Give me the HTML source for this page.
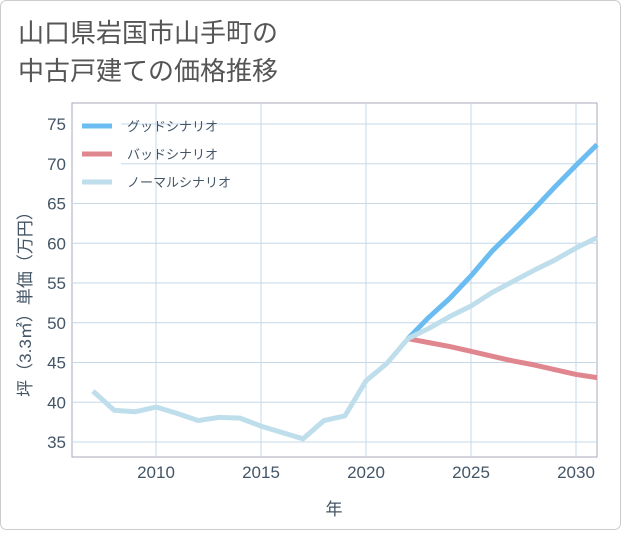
<!DOCTYPE html>
<html><head><meta charset="utf-8"><style>
body{margin:0;background:#fff;}
#wrap{position:relative;width:621px;height:530px;font-family:"Liberation Sans","Noto Sans CJK JP",sans-serif;}
</style></head><body>
<div id="wrap">
<svg id="svg" width="621" height="530" xmlns="http://www.w3.org/2000/svg">
<rect x="0.5" y="0.5" width="620" height="529" rx="6" fill="#fff" stroke="#ccc"/>
<text x="18" y="42" font-size="26" fill="#555" font-family="Liberation Sans, Noto Sans CJK JP, sans-serif">山口県岩国市山手町の</text>
<text x="18" y="80" font-size="26" fill="#555" font-family="Liberation Sans, Noto Sans CJK JP, sans-serif">中古戸建ての価格推移</text>
<g id="grid"></g>
<g id="axes"></g>
<g id="series"></g>
<g id="legend"></g>
</svg>
</div>
<script>
const years=[2007,2008,2009,2010,2011,2012,2013,2014,2015,2016,2017,2018,2019,2020,2021,2022];
const hist=[41.4,39.0,38.8,39.4,38.6,37.7,38.1,38.0,37.0,36.2,35.4,37.7,38.3,42.7,44.9,48.0];
const futYears=[2022,2023,2024,2025,2026,2027,2028,2029,2030,2031];
const good=[48.0,50.7,53.1,55.9,59.0,61.6,64.3,67.1,69.8,72.4];
const bad=[48.0,47.5,47.0,46.4,45.8,45.2,44.7,44.1,43.5,43.1];
const normal=[48.0,49.3,50.8,52.1,53.8,55.2,56.6,57.9,59.4,60.7];
const xTicks=[2010,2015,2020,2025,2030];
const yTicks=[35,40,45,50,55,60,65,70,75];
const X0=72,X1=597,Y0=103,Y1=457;
const xs=y=>X0+(y-2006)*(X1-X0)/25;
const ys=v=>442-(v-35)*(442-124)/40;
const NS="http://www.w3.org/2000/svg";
function mk(t,a,p){const e=document.createElementNS(NS,t);for(const k in a)e.setAttribute(k,a[k]);p.appendChild(e);return e;}
const grid=document.getElementById('grid'),axes=document.getElementById('axes'),ser=document.getElementById('series'),leg=document.getElementById('legend');
mk('rect',{x:X0,y:Y0,width:X1-X0,height:Y1-Y0,fill:'#fff',stroke:'#aab',"stroke-width":1},grid);
yTicks.forEach(v=>{const l=mk('line',{x1:X0,x2:X1,y1:ys(v),y2:ys(v),stroke:'#c5d8e8',"stroke-width":1},grid);


const t=mk('text',{x:X0-6,y:ys(v)+6,"text-anchor":"end","font-size":17,fill:'#445566'},axes);t.textContent=v;

});
xTicks.forEach(v=>{const l=mk('line',{x1:xs(v),x2:xs(v),y1:Y0,y2:Y1,stroke:'#c5d8e8',"stroke-width":1},grid);


const t=mk('text',{x:xs(v),y:Y1+21,"text-anchor":"middle","font-size":17,fill:'#445566'},axes);t.textContent=v;

});
const xt=mk('text',{x:334,y:515,"text-anchor":"middle","font-size":17,fill:'#445566'},axes);xt.textContent='年';


const yt=mk('text',{x:0,y:0,"text-anchor":"middle","font-size":17,fill:'#445566',transform:'translate(31,300) rotate(-90)'},axes);yt.textContent='坪（3.3㎡）単価（万円）';


function line(xv,yv,col,name){const p=mk('polyline',{points:xv.map((x,i)=>xs(x)+','+ys(yv[i])).join(' '),fill:'none',stroke:col,"stroke-width":5,"stroke-linejoin":"round"},ser);

}
line(futYears,bad,'#e0868f','bad-scenario-line');
line(futYears,good,'#6bbcf0','good-scenario-line');
line(futYears,normal,'#bfdeec','normal-scenario-line');
line(years,hist,'#bfdeec','historical-line');
const lr=mk('rect',{x:73,y:104,width:48,height:96,fill:'#fff'},leg);


[['グッドシナリオ','#6bbcf0'],['バッドシナリオ','#e0868f'],['ノーマルシナリオ','#bfdeec']].forEach((d,i)=>{const y=126+i*28;
const g=mk('g',{},leg);


mk('line',{x1:82,x2:112,y1:y,y2:y,stroke:d[1],"stroke-width":5},g);
const t=mk('text',{x:127,y:y+5,"font-size":13,fill:'#445566'},g);t.textContent=d[0];});
</script>
</body></html>
